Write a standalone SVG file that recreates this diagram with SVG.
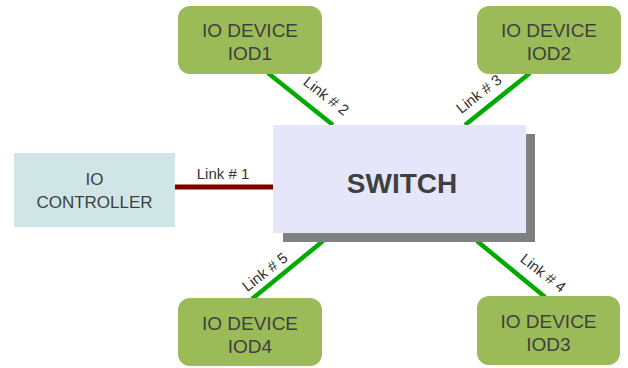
<svg xmlns="http://www.w3.org/2000/svg" width="628" height="368" viewBox="0 0 628 368">
  <style>
    .dev { fill: #9bbb59; }
    .txt { font-family: "Liberation Sans", Arial, sans-serif; fill: #3f3f3f; text-anchor: middle; }
    .dev-t { font-size: 19px; }
    .ctl-t { font-size: 17px; }
    .lbl { font-family: "Liberation Sans", Arial, sans-serif; font-size: 15px; fill: #333; text-anchor: middle; }
    .green { stroke: #00aa00; stroke-width: 4.5; fill: none; }
  </style>
  <rect width="628" height="368" fill="#ffffff"/>

  <!-- links -->
  <g id="connectors">
    <line x1="175" y1="187" x2="274" y2="187" stroke="#800000" stroke-width="5"/>
    <line class="green" x1="268" y1="73" x2="333" y2="125"/>
    <line class="green" x1="530" y1="73" x2="465" y2="125"/>
    <line class="green" x1="477" y1="241" x2="545" y2="297"/>
    <line class="green" x1="323" y1="241" x2="252" y2="299"/>
    <text class="lbl" x="223" y="179">Link # 1</text>
    <text class="lbl" transform="translate(323,100) rotate(38)">Link # 2</text>
    <text class="lbl" transform="translate(482,98) rotate(-38)">Link # 3</text>
    <text class="lbl" transform="translate(540,277) rotate(38)">Link # 4</text>
    <text class="lbl" transform="translate(268,276) rotate(-38)">Link # 5</text>
  </g>

  <g id="switch">
    <rect x="283" y="134" width="252" height="108" fill="#808080"/>
    <rect x="273" y="125" width="253" height="108" fill="#e6e6fa"/>
    <text class="txt" x="402" y="193" font-size="28" font-weight="bold">SWITCH</text>
  </g>

  <g id="controller">
    <rect x="14" y="153" width="161" height="74" fill="#d0e6e6"/>
    <text class="txt ctl-t" x="94.5" y="185">IO</text>
    <text class="txt ctl-t" x="94.5" y="208">CONTROLLER</text>
  </g>

  <g id="iod1">
    <rect class="dev" x="178" y="6" width="144" height="68" rx="12"/>
    <text class="txt dev-t" x="250" y="37">IO DEVICE</text>
    <text class="txt dev-t" x="250" y="60">IOD1</text>
  </g>

  <g id="iod2">
    <rect class="dev" x="477" y="6" width="144" height="68" rx="12"/>
    <text class="txt dev-t" x="549" y="37">IO DEVICE</text>
    <text class="txt dev-t" x="549" y="60">IOD2</text>
  </g>

  <g id="iod3">
    <rect class="dev" x="477" y="296" width="143" height="69" rx="12"/>
    <text class="txt dev-t" x="548.5" y="328">IO DEVICE</text>
    <text class="txt dev-t" x="548.5" y="351">IOD3</text>
  </g>

  <g id="iod4">
    <rect class="dev" x="178" y="298" width="144" height="68" rx="12"/>
    <text class="txt dev-t" x="250" y="330">IO DEVICE</text>
    <text class="txt dev-t" x="250" y="353">IOD4</text>
  </g>
</svg>
